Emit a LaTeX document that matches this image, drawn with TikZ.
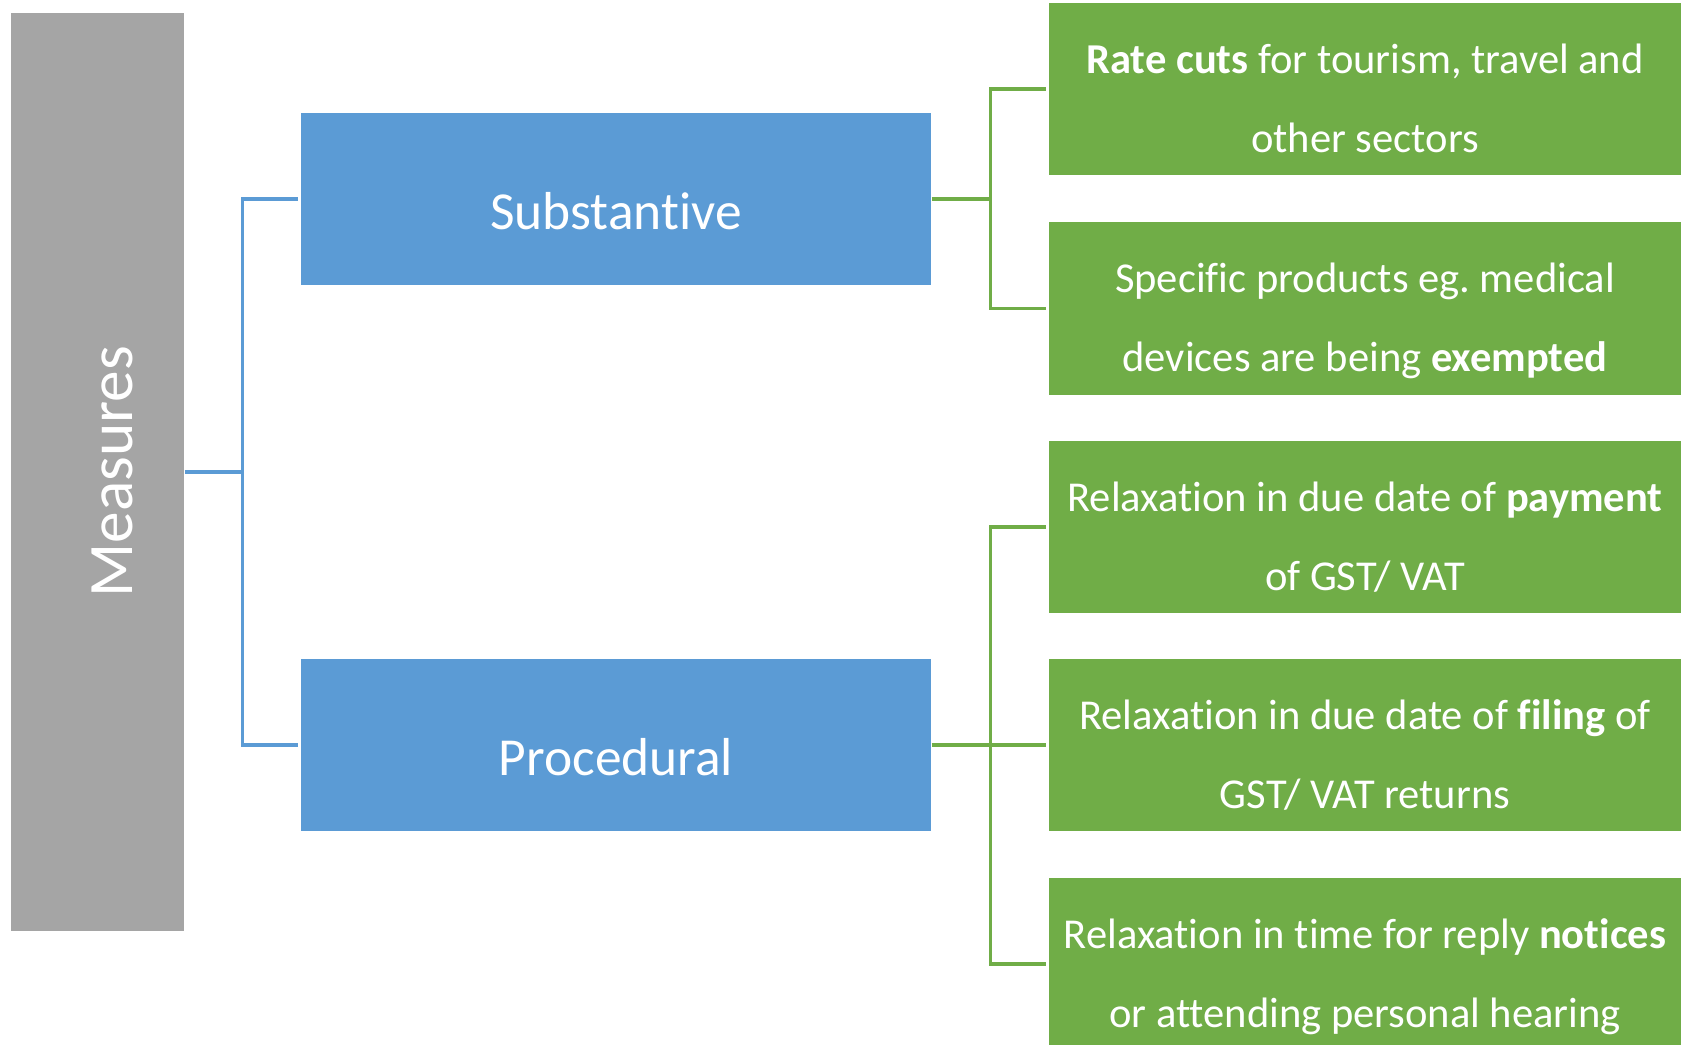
\documentclass[tikz,border=0pt]{standalone}
\usepackage{fontspec}
\setmainfont{Carlito}[Ligatures=NoCommon]
\usetikzlibrary{positioning}
\definecolor{measgray}{HTML}{A5A5A5}
\definecolor{measblue}{HTML}{5B9BD5}
\definecolor{measgreen}{HTML}{70AD47}
\frenchspacing
\tikzset{
  headbox/.style={fill=measgray, inner sep=0pt,
    minimum width=1.73cm, minimum height=9.18cm},
  headtext/.style={rotate=90, text=white, inner sep=0pt,
    text height=11.6pt, text depth=0pt, font=\fontsize{18}{22}\selectfont},
  kindbox/.style={fill=measblue, text=white, inner sep=0pt,
    minimum width=6.30cm, minimum height=1.72cm,
    text height=20.2pt, text depth=3pt,
    font=\fontsize{15.2}{18}\selectfont},
  itembox/.style={fill=measgreen, text=white, inner sep=0pt,
    minimum width=6.32cm, minimum height=1.72cm, align=center,
    text height=38.4pt, text depth=2.5pt,
    font=\fontsize{12.1}{22.5}\selectfont},
  bluelink/.style={draw=measblue, line width=0.9pt, shorten >=0.6pt},
  greenlink/.style={draw=measgreen, line width=0.9pt, shorten >=0.6pt}
}
\begin{document}
\begin{tikzpicture}[x=0.01cm, y=-0.01cm]
    \useasboundingbox (0,0) rectangle (1686,1044);
    \clip (0,0) rectangle (1686,1044);

    \node [headbox] (measures) at (97.5,472) {};          % grey column
    \node [headtext] (measlabel) at (112.6,471.5) {Measures};

    \node [kindbox] (subst) at (616,199) {Substantive};   % the two kinds
    \node [kindbox] (proc) at (616,745) {Procedural};

    \node [itembox] (rate) at (1365,89)
        {\textbf{Rate cuts} for tourism, travel and\\ other sectors};
    \node [itembox] (exempt) at (1365,308.5)
        {Specific products eg. medical\\ devices are being \textbf{exempted}};
    \node [itembox] (payment) at (1365,527)
        {Relaxation in due date of \textbf{payment}\\ of GST/ VAT};
    \node [itembox] (filing) at (1365,745)
        {Relaxation in due date of \textbf{filing} of\\ GST/ VAT returns};
    \node [itembox] (notices) at (1365,964)
        {Relaxation in time for reply \textbf{notices}\\ or attending personal hearing};

    \draw [bluelink] (measures.east) -- ++(58,0) |- (subst.west);
    \draw [bluelink] (measures.east) -- ++(58,0) |- (proc.west);

    \draw [greenlink] (subst.east) -- ++(59,0) |- (rate.west);
    \draw [greenlink] (subst.east) -- ++(59,0) |- (exempt.west);
    \draw [greenlink] (proc.east) -- ++(59,0) |- (payment.west);
    \draw [greenlink] (proc.east) -- ++(59,0) |- (filing.west);
    \draw [greenlink] (proc.east) -- ++(59,0) |- (notices.west);
\end{tikzpicture}
\end{document}
